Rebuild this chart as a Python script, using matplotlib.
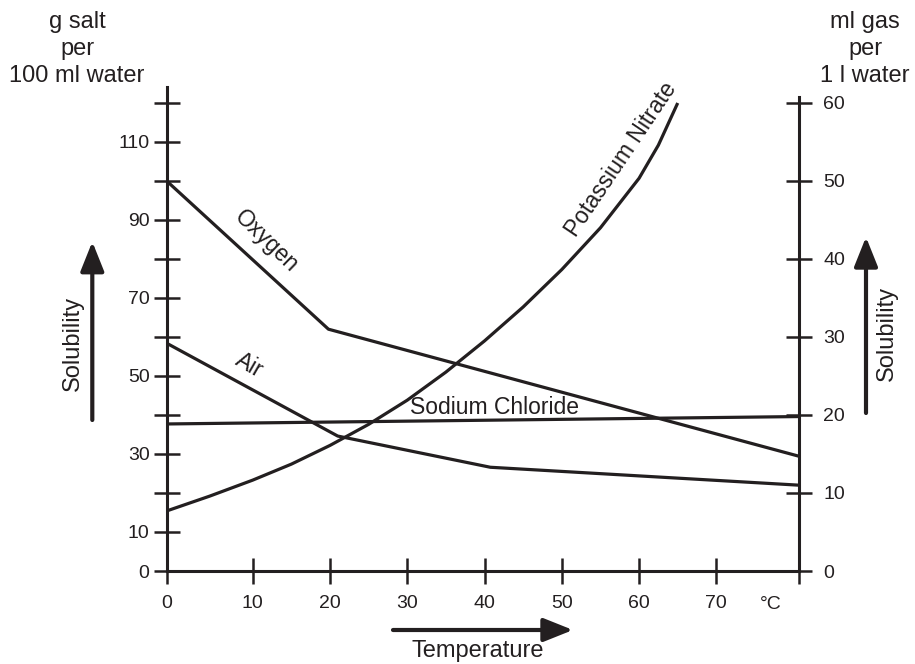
import numpy as np
import matplotlib
matplotlib.use("Agg")
import matplotlib.pyplot as plt
from matplotlib.transforms import blended_transform_factory

plt.rcParams['font.family'] = ['Liberation Sans', 'DejaVu Sans']
INK = '#231f20'

# =============================
# Data (temperature in degC)
# =============================
# salt: g per 100 ml water (left axis)
nacl_t = [0, 80.74]
nacl_s = [37.7, 39.6]

kno3_t = [0, 5, 10, 15, 20, 25, 30, 35, 40, 45, 50, 55, 60, 62.5, 65]
kno3_s = [15.4, 19.2, 23.3, 27.4, 32.2, 37.6, 43.8, 51.0, 59.0, 67.7, 77.3,
          88.0, 100.7, 109.2, 120.0]

# gas: ml per 1 l water (right axis)
oxygen_t = [0, 19.8, 80.74]
oxygen_v = [50.0, 31.0, 14.7]

air_t = [0, 21.0, 40.75, 80.74]
air_v = [29.2, 17.3, 13.3, 11.0]

x_ticks = [0, 10, 20, 30, 40, 50, 60, 70]
left_ticks = list(range(0, 130, 10))
left_labels = ['0', '10', '', '30', '', '50', '', '70', '', '90', '', '110', '']
right_ticks = list(range(0, 70, 10))

x_max = 80.74


# the drawing stretches the first 10 degrees a little
def fwd(x):
    x = np.asarray(x, dtype=float)
    return np.where(x < 10, x * 1.113, x + 1.13)


def inv(y):
    y = np.asarray(y, dtype=float)
    return np.where(y < 11.13, y / 1.113, y - 1.13)


# =============================
# Figure
# =============================
fig = plt.figure(figsize=(9.15, 6.64), dpi=100)
ax = fig.add_axes([0.1822, 0.14006, 0.6914, 0.72892])
ax.set_xscale('function', functions=(fwd, inv))
ax.set_xlim(0, x_max)
ax.set_ylim(0, 124.1)

ax2 = ax.twinx()
ax2.set_ylim(0, 62.05)

lw = 2.3
line_kw = dict(color=INK, lw=lw, solid_capstyle='butt', solid_joinstyle='round')
ax.plot(nacl_t, nacl_s, **line_kw)
ax.plot(kno3_t, kno3_s, **line_kw)
ax2.plot(oxygen_t, oxygen_v, **line_kw)
ax2.plot(air_t, air_v, **line_kw)

# spines
for s in ['top', 'right']:
    ax.spines[s].set_visible(False)
for s in ['top', 'left', 'bottom']:
    ax2.spines[s].set_visible(False)
for sp in [ax.spines['left'], ax.spines['bottom'], ax2.spines['right']]:
    sp.set_linewidth(2.2)
    sp.set_color(INK)
ax2.spines['right'].set_bounds(0, 60.75)

tick_kw = dict(direction='inout', length=18.7, width=1.8, colors=INK, labelcolor=INK)
ax.set_xticks(x_ticks + [x_max])
ax.set_xticklabels([str(v) for v in x_ticks] + [''])
ax.tick_params(axis='x', labelsize=14, pad=8, **tick_kw)
ax.set_yticks(left_ticks)
ax.set_yticklabels(left_labels)
ax.tick_params(axis='y', labelsize=14, pad=3, **tick_kw)
ax2.set_yticks(right_ticks)
ax2.set_yticklabels([str(v) for v in right_ticks])
ax2.tick_params(axis='y', labelsize=14, pad=8, **tick_kw)

trans = blended_transform_factory(ax.transData, ax.transAxes)
ax.text(77, -0.07, '°C', transform=trans, ha='center', va='center',
        fontsize=14, color=INK)

# curve labels
lab = dict(fontsize=16.5, color=INK, ha='center', va='center')
ax.text(11.73, 84.6, 'Oxygen', rotation=-44, **lab)
ax.text(9.61, 52.8, 'Air', rotation=-30, **lab)
ax.text(41.3, 41.8, 'Sodium Chloride', **lab)
ax.text(57.7, 105.6, 'Potassium Nitrate', rotation=56, **lab)

# unit headers
W, H = 915.0, 664.0
fig.text(77 / W, 1 - 49 / H, 'g salt\nper\n100 ml water', ha='center', va='center',
         fontsize=17, color=INK, linespacing=1.3)
fig.text(865 / W, 1 - 49 / H, 'ml gas\nper\n1 l water', ha='center', va='center',
         fontsize=17, color=INK, linespacing=1.3)

# axis name arrows
arrow_kw = dict(arrowstyle='-|>,head_length=1.25,head_width=0.5', lw=3,
                color=INK, mutation_scale=14.4, shrinkA=0, shrinkB=0)


def arrow(x0, y0, x1, y1):
    ax.annotate('', xy=(x1 / W, 1 - y1 / H), xytext=(x0 / W, 1 - y0 / H),
                xycoords='figure fraction', textcoords='figure fraction',
                arrowprops=arrow_kw, annotation_clip=False)


arrow(92.3, 420, 92.3, 241.7)
fig.text(73 / W, 1 - 343 / H, 'Solubility', rotation=90, ha='center', va='center',
         fontsize=17, color=INK)
arrow(866, 413, 866, 237)
fig.text(887 / W, 1 - 333 / H, 'Solubility', rotation=90, ha='center', va='center',
         fontsize=17, color=INK)
arrow(393, 630, 573, 630)
fig.text(478 / W, 1 - 651 / H, 'Temperature', ha='center', va='center',
         fontsize=17, color=INK)

fig.savefig('out.png', dpi=100)
